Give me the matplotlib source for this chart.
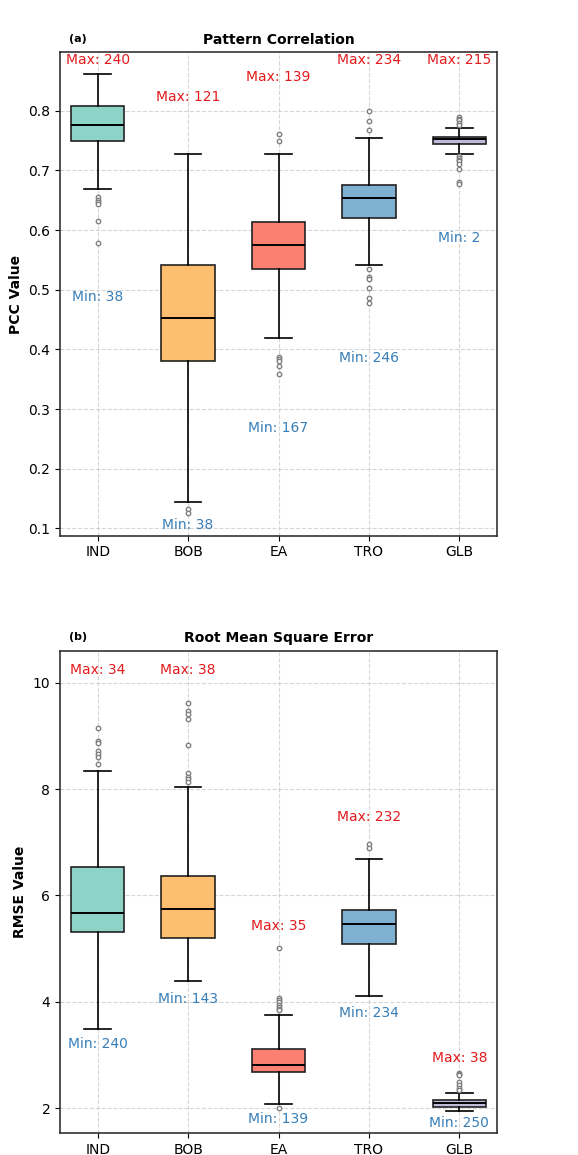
import matplotlib
matplotlib.use("Agg")
import matplotlib.pyplot as plt

regions = ["IND", "BOB", "EA", "TRO", "GLB"]
colors = ["#8dd3c7", "#fdbf6f", "#fb8072", "#80b1d3", "#bebada"]

# Pattern correlation: box statistics
pcc_q1 = [0.749, 0.380, 0.535, 0.620, 0.745]
pcc_med = [0.776, 0.453, 0.575, 0.654, 0.753]
pcc_q3 = [0.808, 0.541, 0.613, 0.675, 0.756]
pcc_lo = [0.669, 0.144, 0.419, 0.542, 0.728]
pcc_hi = [0.861, 0.728, 0.728, 0.754, 0.771]
pcc_fliers = [
    [0.655, 0.651, 0.647, 0.644, 0.615, 0.579],
    [0.133, 0.125],
    [0.761, 0.749, 0.387, 0.384, 0.381, 0.372, 0.359],
    [0.800, 0.783, 0.767, 0.535, 0.521, 0.518, 0.503, 0.486, 0.477],
    [0.790, 0.787, 0.784, 0.779, 0.776, 0.725, 0.721, 0.718, 0.715,
     0.711, 0.703, 0.680, 0.677],
]
pcc_max_lbl = ["Max: 240", "Max: 121", "Max: 139", "Max: 234", "Max: 215"]
pcc_min_lbl = ["Min: 38", "Min: 38", "Min: 167", "Min: 246", "Min: 2"]
pcc_max_y = [0.885, 0.823, 0.856, 0.885, 0.885]
pcc_min_y = [0.488, 0.105, 0.268, 0.385, 0.586]

# Root mean square error
rmse_q1 = [5.31, 5.20, 2.68, 5.09, 2.02]
rmse_med = [5.67, 5.75, 2.81, 5.46, 2.09]
rmse_q3 = [6.54, 6.37, 3.12, 5.73, 2.15]
rmse_lo = [3.49, 4.39, 2.08, 4.11, 1.94]
rmse_hi = [8.34, 8.04, 3.76, 6.69, 2.28]
rmse_fliers = [
    [9.15, 8.90, 8.87, 8.72, 8.66, 8.61, 8.47],
    [9.61, 9.46, 9.42, 9.32, 8.83, 8.30, 8.23, 8.18, 8.14],
    [5.01, 4.07, 4.03, 3.99, 3.95, 3.91, 3.87, 3.84, 2.00],
    [6.96, 6.89],
    [2.67, 2.65, 2.63, 2.49, 2.44, 2.39, 2.34],
]
rmse_max_lbl = ["Max: 34", "Max: 38", "Max: 35", "Max: 232", "Max: 38"]
rmse_min_lbl = ["Min: 240", "Min: 143", "Min: 139", "Min: 234", "Min: 250"]
rmse_max_y = [10.24, 10.24, 5.43, 7.48, 2.94]
rmse_min_y = [3.20, 4.05, 1.79, 3.79, 1.73]


def draw_panel(ax, q1, med, q3, lo, hi, fliers, max_lbl, max_y, min_lbl, min_y,
               title, tag, ylabel, ylim, yticks):
    stats = []
    for i in range(len(regions)):
        stats.append({"q1": q1[i], "med": med[i], "q3": q3[i], "whislo": lo[i],
                      "whishi": hi[i], "fliers": fliers[i], "label": regions[i]})
    pos = list(range(1, len(regions) + 1))
    bp = ax.bxp(stats, positions=pos, widths=0.59, patch_artist=True,
                boxprops=dict(edgecolor="black", linewidth=1.2),
                medianprops=dict(color="black", linewidth=1.4),
                whiskerprops=dict(color="black", linewidth=1.2),
                capprops=dict(color="black", linewidth=1.2),
                flierprops=dict(marker="o", markersize=3.2, markerfacecolor="white",
                                markeredgecolor="gray", markeredgewidth=1.0))
    for patch, c in zip(bp["boxes"], colors):
        patch.set_facecolor(c)
        patch.set_edgecolor("#222222")
    for i in range(len(regions)):
        ax.text(pos[i], max_y[i], max_lbl[i], color="#e41a1c", fontsize=10,
                ha="center", va="center")
        ax.text(pos[i], min_y[i], min_lbl[i], color="#377eb8", fontsize=10,
                ha="center", va="center")
    ax.set_xlim(0.583, 5.417)
    ax.set_ylim(*ylim)
    ax.set_yticks(yticks)
    ax.set_xticks(pos)
    ax.set_xticklabels(regions)
    ax.tick_params(labelsize=10)
    ax.grid(True, linestyle="--", color="#cccccc", linewidth=0.8, alpha=0.8)
    ax.set_axisbelow(True)
    for s in ax.spines.values():
        s.set_color("#333333")
        s.set_linewidth(1.2)
    ax.set_title(title, fontsize=10, fontweight="bold", pad=6)
    ax.text(0.02, 1.018, tag, transform=ax.transAxes, fontsize=8,
            fontweight="bold", va="bottom", ha="left")
    ax.set_ylabel(ylabel, fontsize=10, fontweight="bold")


fig = plt.figure(figsize=(5.78, 11.55), dpi=100)
ax1 = fig.add_axes([0.1038, 0.5362, 0.7562, 0.4185])
ax2 = fig.add_axes([0.1038, 0.0188, 0.7562, 0.4178])

draw_panel(ax1, pcc_q1, pcc_med, pcc_q3, pcc_lo, pcc_hi, pcc_fliers,
           pcc_max_lbl, pcc_max_y, pcc_min_lbl, pcc_min_y,
           "Pattern Correlation", "(a)", "PCC Value", (0.0876, 0.898),
           [0.1, 0.2, 0.3, 0.4, 0.5, 0.6, 0.7, 0.8])
draw_panel(ax2, rmse_q1, rmse_med, rmse_q3, rmse_lo, rmse_hi, rmse_fliers,
           rmse_max_lbl, rmse_max_y, rmse_min_lbl, rmse_min_y,
           "Root Mean Square Error", "(b)", "RMSE Value", (1.53, 10.6),
           [2, 4, 6, 8, 10])

fig.savefig("out.png", dpi=100)
